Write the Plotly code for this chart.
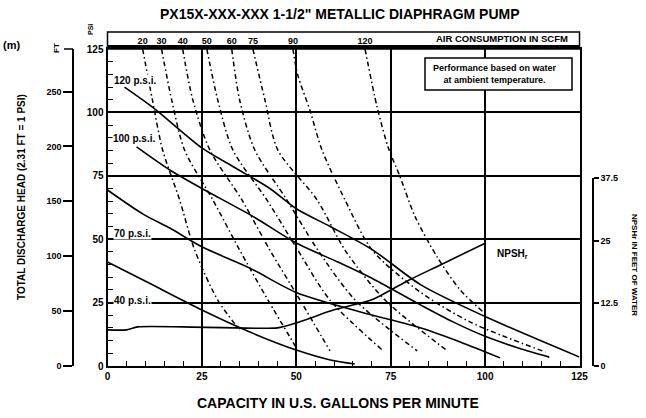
import plotly.graph_objects as go

W, H = 646, 418

# ---------------- data ----------------
title_text = 'PX15X-XXX-XXX 1-1/2" METALLIC DIAPHRAGM PUMP'
x_ticks = [0, 25, 50, 75, 100, 125]
psi_ticks = [0, 25, 50, 75, 100, 125]
ft_ticks = [0, 50, 100, 150, 200, 250]
npsh_ticks = [0, 12.5, 25, 37.5]
npsh_tick_text = ["0", "12.5", "25", "37.5"]

# discharge pressure curves (gpm, psi)
gpm_120psi = [4.5, 12, 25, 34, 43, 50, 59, 70, 83, 100, 125]
psi_120psi = [110, 102, 86, 78, 70, 62, 55, 46, 32, 19.5, 3.5]
gpm_100psi = [7.7, 16.5, 25, 38.5, 50, 61, 69.5, 83, 91.5, 100.5, 109, 117]
psi_100psi = [86.4, 77.3, 70, 59, 48.5, 41, 35, 24, 17.4, 11.4, 7, 3.5]
gpm_70psi = [0, 9.3, 16.5, 25, 37.7, 50, 67, 83, 93.4, 104]
psi_70psi = [69.4, 60, 54.4, 47, 38.6, 29, 21.3, 15, 9.5, 3.2]
gpm_40psi = [0, 11, 25, 37.7, 50, 59, 65.5]
psi_40psi = [41, 32.7, 22.1, 13.4, 6.3, 2.4, 0.8]
pressure_labels = ["120 p.s.i.", "100 p.s.i.", "70 p.s.i.", "40 p.s.i."]

# NPSHr curve (gpm, feet)
npsh_gpm = [0, 5, 8, 20, 45, 50, 60, 70, 80, 88, 100]
npsh_ft = [7.2, 7.2, 7.8, 7.8, 7.6, 8.6, 11.2, 13.2, 17.2, 20.1, 24.5]

# air consumption curves (scfm)
air_labels = ["20", "30", "40", "50", "60", "75", "90", "120"]
air_20_gpm = [9.3, 11.9, 14.6, 19.1, 23.1, 29.2, 35.0]
air_20_psi = [125, 104.9, 85.2, 65.5, 45.7, 26.0, 14.2]
air_30_gpm = [14.3, 17.0, 20.4, 27.9, 35.0, 42.5, 50.2]
air_30_psi = [125, 104.9, 85.2, 65.5, 45.7, 26.0, 6.7]
air_40_gpm = [19.9, 22.6, 27.1, 35.6, 43.0, 51.0, 58.9]
air_40_psi = [125, 104.9, 85.2, 65.5, 45.7, 26.0, 6.0]
air_50_gpm = [26.3, 29.2, 33.2, 42.2, 50.4, 58.9, 73.0]
air_50_psi = [125, 104.9, 85.2, 65.5, 45.7, 26.0, 6.0]
air_60_gpm = [32.9, 35.0, 39.0, 47.5, 55.7, 65.6, 82.0]
air_60_psi = [125, 104.9, 85.2, 65.5, 45.7, 26.0, 6.0]
air_75_gpm = [38.5, 41.7, 45.1, 55.5, 62.9, 73.5, 90.0]
air_75_psi = [125, 104.9, 85.2, 65.5, 45.7, 26.0, 6.0]
air_90_gpm = [49.1, 50.4, 53.6, 56.8, 62.9, 70.1, 82.8, 96.1, 116.0]
air_90_psi = [125, 114.7, 100.9, 85.2, 65.5, 45.7, 29.2, 17.3, 5.5]
air_120_gpm = [68.2, 71.4, 74.3, 77.5, 81.5, 87.3, 93.4, 99.5]
air_120_psi = [125, 102.1, 86.4, 74.5, 58.8, 43.0, 30.0, 21.3]

# ---------------- helpers ----------------
def px(x):
    return x / W

def py(y):
    return 1 - y / H

FONT = "Liberation Sans, Arial, sans-serif"

fig = go.Figure()

solid_curves = [(gpm_120psi, psi_120psi), (gpm_100psi, psi_100psi),
                (gpm_70psi, psi_70psi), (gpm_40psi, psi_40psi)]
for gx, gy in solid_curves:
    fig.add_trace(go.Scatter(x=gx, y=gy, mode="lines",
                             line=dict(color="black", width=1.6, shape="spline", smoothing=0.8),
                             hoverinfo="skip", showlegend=False))

air_curves = [(air_20_gpm, air_20_psi), (air_30_gpm, air_30_psi), (air_40_gpm, air_40_psi),
              (air_50_gpm, air_50_psi), (air_60_gpm, air_60_psi), (air_75_gpm, air_75_psi),
              (air_90_gpm, air_90_psi), (air_120_gpm, air_120_psi)]
for gx, gy in air_curves:
    fig.add_trace(go.Scatter(x=gx, y=gy, mode="lines",
                             line=dict(color="black", width=1.5, dash="5px,3px,1.5px,3px",
                                       shape="spline", smoothing=0.8),
                             hoverinfo="skip", showlegend=False))

# NPSHr on right axis
fig.add_trace(go.Scatter(x=npsh_gpm, y=npsh_ft, mode="lines", xaxis="x", yaxis="y3",
                         line=dict(color="black", width=1.6, shape="spline", smoothing=0.6),
                         hoverinfo="skip", showlegend=False))

# invisible traces to activate auxiliary axes
fig.add_trace(go.Scatter(x=[0], y=[0], xaxis="x", yaxis="y2", mode="markers",
                         marker=dict(opacity=0), hoverinfo="skip", showlegend=False))
fig.add_trace(go.Scatter(x=[0], y=[0], xaxis="x2", yaxis="y", mode="markers",
                         marker=dict(opacity=0), hoverinfo="skip", showlegend=False))

tickfont = dict(family=FONT, size=10, color="black", weight="bold")

x_dom = [px(107.5), px(579.5)]
y_dom = [py(366), py(49)]

fig.update_layout(
    width=W, height=H,
    margin=dict(l=0, r=0, t=0, b=0, autoexpand=False),
    paper_bgcolor="white", plot_bgcolor="rgba(0,0,0,0)",
    font=dict(family=FONT, color="black"),
    xaxis=dict(domain=x_dom, range=[0, 125], tickvals=x_ticks,
               ticks="inside", ticklen=6, tickwidth=1.5, tickcolor="black",
               minor=dict(dtick=5, ticks="inside", ticklen=5, tickwidth=1, tickcolor="black",
                          showgrid=False),
               showgrid=True, gridcolor="black", gridwidth=1.5,
               showline=True, linecolor="black", linewidth=2, mirror=True,
               zeroline=False, tickfont=tickfont, anchor="y", automargin=False),
    yaxis=dict(domain=y_dom, range=[0, 125], tickvals=psi_ticks,
               ticks="inside", ticklen=6, tickwidth=1.5, tickcolor="black",
               minor=dict(dtick=5, ticks="inside", ticklen=5, tickwidth=1, tickcolor="black",
                          showgrid=False),
               showgrid=True, gridcolor="black", gridwidth=1.5,
               showline=True, linecolor="black", linewidth=2, mirror=True,
               zeroline=False, tickfont=tickfont, anchor="x", automargin=False),
    yaxis2=dict(overlaying="y", anchor="free", position=px(73), side="left",
                range=[0, 125 * 2.31], tickvals=ft_ticks,
                ticks="outside", ticklen=9, tickwidth=1.5, tickcolor="black",
                showline=True, linecolor="black", linewidth=1.5,
                showgrid=False, zeroline=False,
                tickfont=dict(family=FONT, size=9, color="black", weight="bold"),
                automargin=False),
    yaxis3=dict(anchor="free", position=px(593), side="right",
                domain=[py(366), py(178)], range=[0, 37.5],
                tickvals=npsh_ticks, ticktext=npsh_tick_text,
                ticks="outside", ticklen=5, tickwidth=1.5, tickcolor="black",
                showline=True, linecolor="black", linewidth=1.5,
                showgrid=False, zeroline=False,
                tickfont=dict(family=FONT, size=9, color="black", weight="bold"),
                automargin=False),
    xaxis2=dict(overlaying="x", anchor="free", position=py(46), side="top",
                range=[0, 125], tickvals=[c[0][0] for c in air_curves], ticktext=air_labels,
                ticks="", showgrid=False, showline=False, zeroline=False,
                tickfont=dict(family=FONT, size=9, color="black", weight="bold"),
                automargin=False),
)

shapes = [
    # top air-consumption band
    dict(type="rect", xref="paper", yref="paper", x0=px(107.5), x1=px(579.5),
         y0=py(49), y1=py(32), line=dict(color="black", width=1.5)),
    dict(type="line", xref="paper", yref="paper", x0=px(107.5), x1=px(579.5),
         y0=py(47), y1=py(47), line=dict(color="black", width=4)),
    # top tick of the outer feet axis
    dict(type="line", xref="paper", yref="paper", x0=px(64), x1=px(73),
         y0=py(49), y1=py(49), line=dict(color="black", width=1.5)),
    # note box
    dict(type="rect", xref="paper", yref="paper", x0=px(425), x1=px(572),
         y0=py(90), y1=py(58), line=dict(color="black", width=1.5), fillcolor="white"),
]
fig.update_layout(shapes=shapes)

def ann(x, y, text, size=9, xanchor="center", yanchor="middle", angle=0, bg=None):
    d = dict(xref="paper", yref="paper", x=px(x), y=py(y), text=text, showarrow=False,
             xanchor=xanchor, yanchor=yanchor, textangle=angle,
             font=dict(family=FONT, size=size, color="black", weight="bold"))
    if bg:
        d["bgcolor"] = bg
        d["borderpad"] = 0
    return d

annotations = [
    ann(340, 14, title_text, size=14),
    ann(338, 403, "CAPACITY IN U.S. GALLONS PER MINUTE", size=14),
    ann(21, 197, "TOTAL DISCHARGE HEAD (2.31 FT = 1 PSI)", size=10, angle=-90),
    ann(635, 265, "NPSHr IN FEET OF WATER", size=8, angle=90),
    ann(502, 39, "AIR CONSUMPTION IN SCFM", size=9.5),
    ann(431, 74, "Performance based on water<br>at ambient temperature.", size=9,
        xanchor="left"),
    ann(22, 45, "(m)", size=11, xanchor="right"),
    ann(56, 48, "FT", size=8, angle=-90),
    ann(90, 30, "PSI", size=7, angle=-90),
    ann(113, 81, pressure_labels[0], size=10, xanchor="left", bg="white"),
    ann(112, 138, pressure_labels[1], size=10, xanchor="left", bg="white"),
    ann(113, 233, pressure_labels[2], size=10, xanchor="left", bg="white"),
    ann(113, 300, pressure_labels[3], size=10, xanchor="left", bg="white"),
    ann(512, 254, "NPSH<sub>r</sub>", size=10),
]
fig.update_layout(annotations=annotations)

fig.write_html("out.html", config={"displayModeBar": False},
               post_script="document.body.style.margin='0';")
